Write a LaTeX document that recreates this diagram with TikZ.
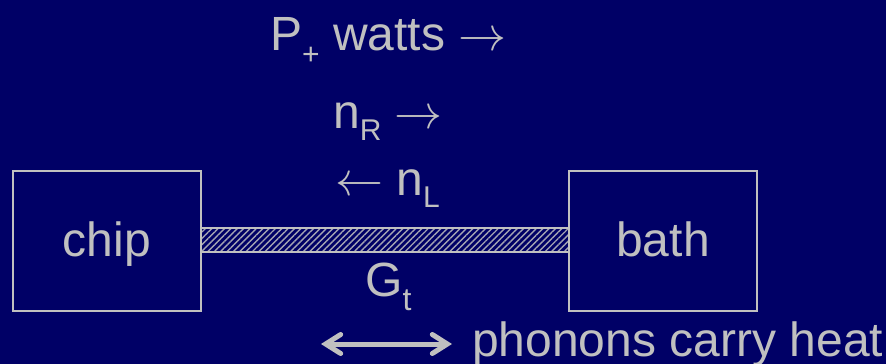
\documentclass[tikz,border=0pt]{standalone}
\usepackage{fontspec}
\setmainfont{Liberation Sans}
\usetikzlibrary{arrows.meta,patterns.meta}
\definecolor{navy}{RGB}{0,0,102}
\definecolor{fg}{RGB}{192,192,192}
\newcommand\mysub[2][-12pt]{\raisebox{#1}{\fontsize{30}{30}\selectfont #2}}
\newcommand\rarr{\scalebox{4.8}{\fontsize{10}{12}\selectfont$\rightarrow$}}
\newcommand\larr{\scalebox{4.8}{\fontsize{10}{12}\selectfont$\leftarrow$}}
\begin{document}
\begin{tikzpicture}[x=1pt,y=-1pt,
  txt/.style={text=fg,inner sep=0pt,font=\fontsize{48}{52}\selectfont},
  boxnode/.style={draw=fg,line width=2pt,minimum width=188pt,minimum height=140pt,
     text=fg,font=\fontsize{48}{52}\selectfont,text height=37pt,text depth=7pt,inner sep=0pt},
  barnode/.style={draw=fg,line width=2pt,minimum width=368pt,minimum height=24pt,inner sep=0pt,
     pattern={Lines[angle=45,distance=4.5pt,line width=1.4pt]},pattern color=fg!85!navy},
  dblarrow/.style={draw=fg,line width=5pt,line cap=round,
     {Straight Barb[length=15pt,width=19pt,line cap=round]}-{Straight Barb[length=15pt,width=19pt,line cap=round]}}
]
\fill[navy] (0,0) rectangle (886,364);
\useasboundingbox (0,0) rectangle (886,364);

\node[txt,anchor=base west] (pw) at (270,50) {P\mysub[-14pt]{+} watts \rarr};
\node[txt,anchor=base west] (nr) at (333,128) {n\mysub{R} \rarr};
\node[txt,anchor=base west] (nl) at (335,195) {\larr\ n\mysub{L}};

\node[boxnode] (chip) at (107,241) {chip};
\node[boxnode] (bath) at (663,241) {bath};
\node[barnode] (bar) at (385,240) {};

\node[txt,anchor=base west] (gt) at (365,296) {G\raisebox{-14pt}{\fontsize{32}{32}\selectfont t}};

\coordinate (dl) at (321,344);
\coordinate (dr) at (452,344);
\draw[dblarrow] (dl) -- (dr);
\node[txt,anchor=base west] (ph) at (472,356) {phonons carry heat};
\end{tikzpicture}
\end{document}
